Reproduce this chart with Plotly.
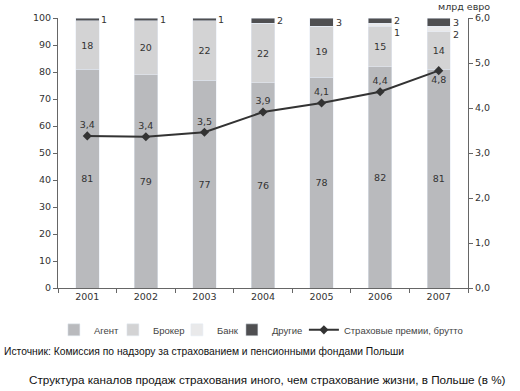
import plotly.graph_objects as go

years = ["2001", "2002", "2003", "2004", "2005", "2006", "2007"]
agent = [81, 79, 77, 76, 78, 82, 81]
broker = [18, 20, 22, 22, 19, 15, 14]
bank = [0, 0, 0, 0, 0, 1, 2]
other = [1, 1, 1, 2, 3, 2, 3]
premiums = [3.38, 3.36, 3.46, 3.91, 4.11, 4.36, 4.83]
premium_labels = ["3,4", "3,4", "3,5", "3,9", "4,1", "4,4", "4,8"]

series_names = ["Агент", "Брокер", "Банк", "Другие", "Страховые премии, брутто"]
left_ticks = [0, 10, 20, 30, 40, 50, 60, 70, 80, 90, 100]
right_ticks = [0, 1, 2, 3, 4, 5, 6]

NUM_FONT = "DejaVu Sans"
TXT_FONT = "Liberation Sans"
NUM_SIZE = 9.5
C_AGENT = "#b9babd"
C_BROKER = "#d3d3d4"
C_BANK = "#e9e9ea"
C_OTHER = "#4f4f51"
C_LINE = "#333333"
TXT_C = "#333333"

fig = go.Figure()
fig.add_bar(x=years, y=agent, name=series_names[0], marker_color=C_AGENT,
            text=[str(v) for v in agent], textposition="inside", insidetextanchor="middle",
            textfont=dict(family=NUM_FONT, size=NUM_SIZE, color=TXT_C), legendwidth=14)
fig.add_bar(x=years, y=broker, name=series_names[1], marker_color=C_BROKER,
            text=[str(v) for v in broker], textposition="inside", insidetextanchor="middle",
            textfont=dict(family=NUM_FONT, size=NUM_SIZE, color=TXT_C), legendwidth=19)
fig.add_bar(x=years, y=bank, name=series_names[2], marker_color=C_BANK,
            textposition="none", legendwidth=10)
fig.add_bar(x=years, y=other, name=series_names[3], marker_color=C_OTHER,
            textposition="none", legendwidth=27)
fig.add_scatter(x=years, y=premiums, name=series_names[4], yaxis="y2",
                mode="lines+markers+text", text=premium_labels,
                textposition=["top center"] * 6 + ["bottom center"],
                textfont=dict(family=NUM_FONT, size=NUM_SIZE, color=TXT_C),
                line=dict(color=C_LINE, width=2),
                marker=dict(symbol="diamond", size=7, color=C_LINE), legendwidth=115)

annotations = []
for i, y in enumerate(years):
    base = agent[i] + broker[i]
    other_mid = base + bank[i] + other[i] / 2
    annotations.append(dict(x=i, y=other_mid, xref="x", yref="y",
                            text=str(other[i]), showarrow=False, xanchor="left",
                            xshift=12, yshift=0,
                            font=dict(family=NUM_FONT, size=NUM_SIZE, color=TXT_C)))
    if bank[i] > 0:
        annotations.append(dict(x=i, y=other_mid, xref="x", yref="y",
                                text=str(bank[i]), showarrow=False, xanchor="left",
                                xshift=12, yshift=-12,
                                font=dict(family=NUM_FONT, size=NUM_SIZE, color=TXT_C)))

annotations.append(dict(x=1.058, y=1.0, xref="paper", yref="paper", xanchor="right",
                        yanchor="bottom", yshift=4, text="млрд евро", showarrow=False,
                        font=dict(family=NUM_FONT, size=NUM_SIZE, color=TXT_C)))
annotations.append(dict(x=-0.137, y=-0.237, xref="paper", yref="paper", xanchor="left",
                        yanchor="middle",
                        text="Источник: Комиссия по надзору за страхованием и пенсионными фондами Польши",
                        showarrow=False, font=dict(family=TXT_FONT, size=10.3, color="#111")))
annotations.append(dict(x=0.51, y=-0.34, xref="paper", yref="paper", xanchor="center",
                        yanchor="middle",
                        text="Структура каналов продаж страхования иного, чем страхование жизни, в Польше (в %)",
                        showarrow=False, font=dict(family=TXT_FONT, size=11.7, color="#111")))

fig.update_layout(
    width=520, height=391,
    margin=dict(l=58, r=52, t=18, b=103),
    barmode="stack", bargap=0.6,
    plot_bgcolor="white", paper_bgcolor="white",
    showlegend=True,
    legend=dict(orientation="h", x=-0.01, xanchor="left", y=-0.155, yanchor="middle",
                font=dict(family=TXT_FONT, size=9.5, color="#444"),
                traceorder="normal", itemwidth=30),
    xaxis=dict(type="category", range=[-0.5, 6.5], showline=True, linecolor="#666",
               linewidth=1, ticks="outside", tickson="boundaries", ticklen=4,
               tickcolor="#666",
               tickfont=dict(family=NUM_FONT, size=NUM_SIZE, color=TXT_C), showgrid=False),
    yaxis=dict(range=[0, 100], tickvals=left_ticks, showline=True, linecolor="#666",
               ticks="outside", ticklen=4, tickcolor="#666", showgrid=False,
               zeroline=False,
               tickfont=dict(family=NUM_FONT, size=NUM_SIZE, color=TXT_C)),
    yaxis2=dict(range=[0, 6], tickvals=right_ticks,
                ticktext=[f"{v},0" for v in right_ticks], overlaying="y", side="right",
                showline=True, linecolor="#666", ticks="outside", ticklen=4,
                tickcolor="#666", showgrid=False, zeroline=False,
                tickfont=dict(family=NUM_FONT, size=NUM_SIZE, color=TXT_C)),
    annotations=annotations,
)

fig.write_html("out.html", config={"displayModeBar": False},
               post_script="document.body.style.margin='0px';")
